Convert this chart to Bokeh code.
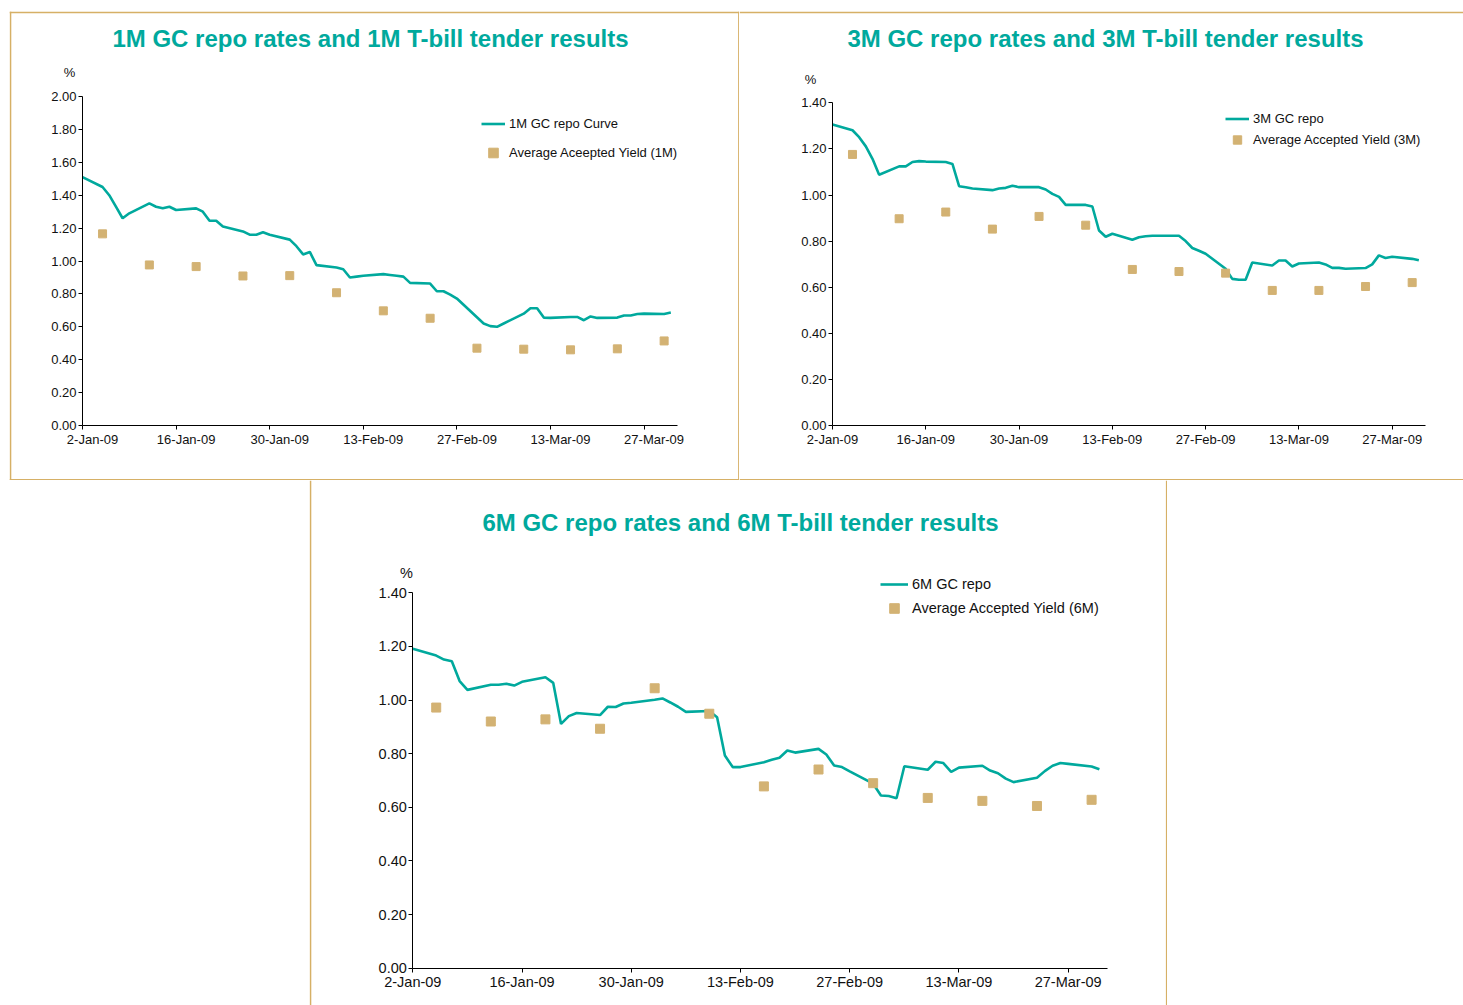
import pandas as pd
from bokeh.plotting import figure
from bokeh.models import (Range1d, FixedTicker, PrintfTickFormatter, Label, Legend,
                          LegendItem, Spacer, LinearAxis, Span)
from bokeh.layouts import column, row
from bokeh.embed import file_html
from bokeh.resources import INLINE

TEAL = "#00A99D"
GOLD = "#D3B273"
FRAME = "#D6B066"
FONT = "Liberation Sans"

START = "2009-01-02"
tick_dates = ["2009-01-02", "2009-01-16", "2009-01-30", "2009-02-13",
              "2009-02-27", "2009-03-13", "2009-03-27"]
tick_labels = ["2-Jan-09", "16-Jan-09", "30-Jan-09", "13-Feb-09",
               "27-Feb-09", "13-Mar-09", "27-Mar-09"]

repo_dates = [
    "2009-01-02", "2009-01-05", "2009-01-06", "2009-01-07", "2009-01-08", "2009-01-09",
    "2009-01-12", "2009-01-13", "2009-01-14", "2009-01-15", "2009-01-16",
    "2009-01-19", "2009-01-20", "2009-01-21", "2009-01-22", "2009-01-23",
    "2009-01-26", "2009-01-27", "2009-01-28", "2009-01-29", "2009-01-30",
    "2009-02-02", "2009-02-03", "2009-02-04", "2009-02-05", "2009-02-06",
    "2009-02-09", "2009-02-10", "2009-02-11", "2009-02-12", "2009-02-13",
    "2009-02-16", "2009-02-17", "2009-02-18", "2009-02-19", "2009-02-20",
    "2009-02-23", "2009-02-24", "2009-02-25", "2009-02-26", "2009-02-27",
    "2009-03-02", "2009-03-03", "2009-03-04", "2009-03-05", "2009-03-06",
    "2009-03-09", "2009-03-10", "2009-03-11", "2009-03-12", "2009-03-13",
    "2009-03-16", "2009-03-17", "2009-03-18", "2009-03-19", "2009-03-20",
    "2009-03-23", "2009-03-24", "2009-03-25", "2009-03-26", "2009-03-27",
    "2009-03-30", "2009-03-31",
]

repo_1m = [
    1.51, 1.45, 1.40, 1.33, 1.26, 1.29,
    1.35, 1.33, 1.32, 1.33, 1.31,
    1.32, 1.30, 1.245, 1.245, 1.21,
    1.18, 1.16, 1.16, 1.175, 1.16,
    1.13, 1.09, 1.04, 1.055, 0.975,
    0.96, 0.95, 0.90, 0.905, 0.91,
    0.92, 0.915, 0.91, 0.905, 0.867,
    0.863, 0.816, 0.816, 0.796, 0.772,
    0.658, 0.62, 0.604, 0.60, 0.62,
    0.68, 0.713, 0.713, 0.656, 0.654,
    0.66, 0.66, 0.64, 0.663, 0.654,
    0.656, 0.669, 0.669, 0.678, 0.68,
    0.678, 0.687,
]

repo_3m = [
    1.306, 1.281, 1.251, 1.211, 1.157, 1.088,
    1.124, 1.124, 1.143, 1.147, 1.145,
    1.143, 1.135, 1.038, 1.034, 1.028,
    1.021, 1.028, 1.031, 1.040, 1.034,
    1.034, 1.024, 1.005, 0.992, 0.957,
    0.957, 0.950, 0.846, 0.819, 0.832,
    0.806, 0.817, 0.821, 0.823, 0.823,
    0.823, 0.800, 0.770, 0.758, 0.745,
    0.680, 0.636, 0.632, 0.632, 0.707,
    0.694, 0.716, 0.716, 0.690, 0.703,
    0.707, 0.699, 0.684, 0.684, 0.680,
    0.683, 0.699, 0.738, 0.727, 0.732,
    0.723, 0.717,
]

repo_6m = [
    1.191, 1.166, 1.151, 1.145, 1.071, 1.038,
    1.057, 1.057, 1.061, 1.054, 1.068,
    1.085, 1.064, 0.911, 0.940, 0.952,
    0.944, 0.975, 0.974, 0.987, 0.990,
    1.001, 1.006, 0.991, 0.975, 0.956,
    0.959, 0.936, 0.793, 0.750, 0.750,
    0.768, 0.777, 0.785, 0.812, 0.804,
    0.818, 0.797, 0.756, 0.750, 0.734,
    0.688, 0.644, 0.642, 0.634, 0.753,
    0.740, 0.770, 0.765, 0.732, 0.748,
    0.755, 0.737, 0.727, 0.707, 0.694,
    0.710, 0.735, 0.755, 0.765, 0.762,
    0.752, 0.742,
]

tender_dates = ["2009-01-05", "2009-01-12", "2009-01-19", "2009-01-26", "2009-02-02",
                "2009-02-09", "2009-02-16", "2009-02-23", "2009-03-02", "2009-03-09",
                "2009-03-16", "2009-03-23", "2009-03-30"]
yield_1m = [1.165, 0.976, 0.966, 0.909, 0.911, 0.807, 0.697, 0.652, 0.470, 0.464, 0.460, 0.466, 0.514]
yield_3m = [1.176, 0.897, 0.926, 0.852, 0.907, 0.869, 0.677, 0.668, 0.661, 0.586, 0.586, 0.603, 0.620]
yield_6m = [0.972, 0.920, 0.928, 0.893, 1.044, 0.949, 0.678, 0.741, 0.690, 0.635, 0.624, 0.605, 0.628]

X_END = 89  # days shown on the time axis (2-Jan-09 .. 1-Apr-09)


def days(ds):
    return list((pd.to_datetime(ds) - pd.Timestamp(START)).days)


def style_axis(ax, fs):
    ax.axis_line_color = "#000000"
    ax.axis_line_width = 1
    ax.major_tick_line_color = "#000000"
    ax.major_tick_out = 4
    ax.major_tick_in = 0
    ax.minor_tick_line_color = None
    ax.major_label_text_font = FONT
    ax.major_label_text_font_size = f"{fs}px"
    ax.major_label_text_color = "#111111"
    ax.major_label_standoff = 2


def make_chart(title, repo_label, yield_label, repo_vals, yield_vals, ymax,
               canvas, axis_px, fs, title_xy, pct_xy, leg, marker_size,
               frame_v=(), frame_h=(), label_shift_px=0):
    # canvas: page-pixel box of the panel; axis_px: page pixels of the axes
    cx, cy, w, h = canvas
    x0, x1, y0, ytop = axis_px
    ppd = (x1 - x0) / X_END
    ppu = (y0 - ytop) / ymax

    def dx(px):
        return (px - x0) / ppd

    def dy(py):
        return (y0 - py) / ppu

    p = figure(width=w, height=h,
               x_range=Range1d(dx(cx), dx(cx + w)),
               y_range=Range1d(dy(cy + h), dy(cy)),
               output_backend="svg", toolbar_location=None,
               min_border=0, min_border_left=0, min_border_right=0,
               min_border_top=0, min_border_bottom=0)
    p.title.visible = False
    p.xgrid.visible = False
    p.ygrid.visible = False
    p.outline_line_color = None
    p.background_fill_color = "white"
    p.border_fill_color = "white"

    # gold panel frame
    for vx in frame_v:
        p.add_layout(Span(location=dx(vx), dimension="height",
                          line_color=FRAME, line_width=1.6))
    for hy in frame_h:
        p.add_layout(Span(location=dy(hy), dimension="width",
                          line_color=FRAME, line_width=1.6))

    tx = days(tick_dates)
    p.xaxis.ticker = FixedTicker(ticks=tx)
    p.xaxis.fixed_location = 0
    p.xaxis.bounds = (0, X_END)
    yt = [round(i * 0.2, 2) for i in range(int(round(ymax / 0.2)) + 1)]
    p.yaxis.ticker = FixedTicker(ticks=yt)
    p.yaxis.formatter = PrintfTickFormatter(format="%.2f")
    p.yaxis.fixed_location = 0
    p.yaxis.bounds = (0, ymax)
    style_axis(p.xaxis[0], fs)
    style_axis(p.yaxis[0], fs)

    if label_shift_px:
        # tick labels sit slightly to the right of their ticks in this panel
        p.xaxis[0].major_label_overrides = {int(t): "" for t in tx}
        shift = round(label_shift_px / ppd, 2)
        lt = [t + shift for t in tx]
        lab_axis = LinearAxis(ticker=FixedTicker(ticks=lt), fixed_location=0,
                              major_label_overrides={t: l for t, l in zip(lt, tick_labels)})
        style_axis(lab_axis, fs)
        lab_axis.axis_line_color = None
        lab_axis.major_tick_line_color = None
        lab_axis.major_tick_out = 0
        lab_axis.major_label_standoff = 6
        p.add_layout(lab_axis, "below")
    else:
        p.xaxis[0].major_label_overrides = {int(t): l for t, l in zip(tx, tick_labels)}

    r1 = p.line(days(repo_dates), repo_vals, line_color=TEAL, line_width=2.6)
    r2 = p.scatter(days(tender_dates), yield_vals, marker="square",
                   size=marker_size, fill_color=GOLD, line_color=GOLD)

    gx, items_y, glyph_w = leg
    pitch = items_y[1] - items_y[0]
    bottom = items_y[1] + pitch / 2
    legend = Legend(items=[LegendItem(label=repo_label, renderers=[r1]),
                           LegendItem(label=yield_label, renderers=[r2])],
                    location=(gx - cx, cy + h - bottom), padding=0, margin=0,
                    spacing=0, label_height=int(round(pitch)),
                    glyph_height=int(round(pitch)),
                    glyph_width=glyph_w, label_standoff=4,
                    border_line_color=None, background_fill_alpha=0,
                    label_text_font=FONT, label_text_font_size=f"{fs}px",
                    label_text_color="#111111")
    p.add_layout(legend)

    p.add_layout(Label(x=dx(title_xy[0]), y=dy(title_xy[1]),
                       text=title, text_align="center", text_baseline="middle",
                       text_font=FONT, text_font_style="bold",
                       text_font_size="24px", text_color=TEAL))
    p.add_layout(Label(x=dx(pct_xy[0]), y=dy(pct_xy[1]),
                       text="%", text_align="center", text_baseline="middle",
                       text_font=FONT, text_font_size=f"{fs}px",
                       text_color="#111111"))
    return p


p1 = make_chart("1M GC repo rates and 1M T-bill tender results", "1M GC repo Curve",
                "Average Aceepted Yield (1M)", repo_1m, yield_1m, 2.0,
                (9, 11, 730, 469), (82, 677, 425, 96), 13,
                (370, 38), (69, 72), (481, (123, 152), 24), 8,
                frame_v=(10, 738.4), frame_h=(11.9, 479.2), label_shift_px=10)
p2 = make_chart("3M GC repo rates and 3M T-bill tender results", "3M GC repo",
                "Average Accepted Yield (3M)", repo_3m, yield_3m, 1.4,
                (739, 11, 724, 469), (832, 1425, 425, 102.3), 13,
                (1105, 38), (810, 79), (1225, (117.7, 139), 24), 8,
                frame_h=(11.9, 479.2))
p3 = make_chart("6M GC repo rates and 6M T-bill tender results", "6M GC repo",
                "Average Accepted Yield (6M)", repo_6m, yield_6m, 1.4,
                (309, 480, 858, 525), (412.3, 1106.7, 967.7, 592.3), 14.5,
                (740, 522), (406, 572), (880, (584, 608), 28), 9,
                frame_v=(310, 1166.2))

layout = column(Spacer(height=11),
                row(Spacer(width=9), p1, p2),
                row(Spacer(width=309), p3))

with open("out.html", "w") as f:
    f.write(file_html(layout, INLINE, "GC repo rates and T-bill tender results"))
